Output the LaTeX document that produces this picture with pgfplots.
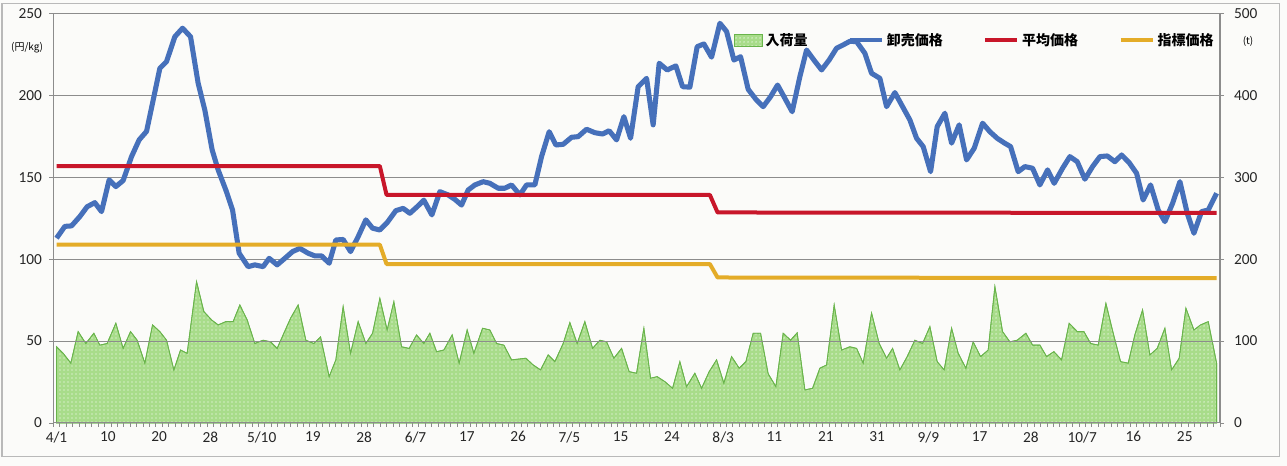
\documentclass[border=0pt]{standalone}
\usepackage{fontspec}
\setmainfont{Carlito}
\newfontfamily\jp{Noto Sans CJK JP}
\usepackage{pgfplots}
\pgfplotsset{compat=1.18}
\usetikzlibrary{patterns}
\definecolor{cblue}{RGB}{70,112,186}
\definecolor{cred}{RGB}{200,22,42}
\definecolor{cyel}{RGB}{228,172,40}
\definecolor{cgreen}{RGB}{168,220,138}
\definecolor{cgreenD}{RGB}{105,180,75}
\definecolor{bgc}{RGB}{251,251,249}
\definecolor{gridc}{RGB}{140,140,140}
\begin{document}
\begin{tikzpicture}
\path[use as bounding box, fill=bgc] (-40pt,-32.25pt) rectangle (925.25pt,317.2pt);
\draw[gray!55, line width=0.8pt] (-38.5pt,-25.5pt) rectangle (919.3pt,314.25pt);
% volume axis (right)
\begin{axis}[at={(0pt,0pt)}, anchor=south west, scale only axis,
  width=875pt, height=307.1pt,
  xmin=-0.5, xmax=181.5, ymin=0, ymax=500,
  axis x line=none, axis y line*=right,
  ytick={0,100,...,500},
  y axis line style={gridc, line width=0.8pt},
  tick align=outside, major tick length=3pt,
  ytick style={gridc, line width=0.6pt},
  /pgf/number format/assume math mode=true,
  ticklabel style={font=\fontsize{11.5}{13}\selectfont, text=black!85},
  yticklabel style={xshift=4pt},
  clip=false]
\addplot[draw=cgreenD, line width=0.6pt, fill=cgreen,
  postaction={pattern=dots, pattern color=white},
  x filter/.expression={(x-56.7)/6.41}] coordinates {
(56.7,93) (63.3,85) (71,73) (78.3,111.5) (86,97) (94,109.5) (100,95) (107.3,97)
(116,121.7) (123.3,91) (130.7,111.5) (137.3,101) (145,73) (152.7,119.7) (160,111.5)
(166.7,101) (174,64.7) (180.7,89) (187.3,85) (196.7,172.5) (204,136) (211.7,125.8)
(218.3,119.7) (226,123.7) (233.3,123.7) (240,144) (247.3,125.8) (255,97) (263.3,101)
(270.7,99) (277.3,91) (284,109.5) (290.7,127.8) (298.3,144) (306,101) (314,97)
(320.7,105) (329.3,56.5) (336,77) (343.3,142) (350.7,85) (358.3,123.7) (366,97)
(372.7,109.5) (380,152) (387.3,113.5) (394,148) (401.7,93) (409.3,91) (416.7,107.4)
(424,97) (430,109.5) (436.7,87) (444,89) (452.3,107.4) (459.3,73) (467.3,113.5)
(474,85) (482.7,115.6) (490,113.5) (496.7,97) (504,95) (511.7,77) (519,78) (526,79)
(533.3,70.8) (540.7,64.7) (548.3,83) (555,74.8) (563.3,97) (570,122.5) (577.3,97)
(585,123.7) (592.7,91) (600,101) (606.7,99) (614,79) (621.7,91) (629.3,62.6)
(636.7,60.7) (644,115.6) (650.7,54.6) (657.3,56.5) (665,50.4) (672.7,42.3) (680,74.8)
(686.7,44.3) (695,60.7) (701.7,42.3) (709.3,62.6) (716.7,77) (724,48.5) (731.7,81)
(739.3,66.8) (746,74.8) (753.3,109.5) (760.7,109.5) (768.3,60) (776,44.3) (783.3,109.5)
(790.7,101) (797.3,110) (805,40.3) (812.7,42.3) (820,66.8) (826.7,70.8) (834.3,144)
(841.7,89) (850,93) (856.7,91) (863.3,73) (871.7,134) (879.3,97) (886.7,79)
(892.7,91) (900,64.7) (907.3,81) (915,101) (922.7,97) (930,117.6) (937.3,74.8)
(944.3,64.7) (951.7,115.6) (958.3,85) (966,66.8) (973.3,99) (980.7,81) (988.3,89)
(995,166.4) (1002.7,111.5) (1010,99) (1017.3,101) (1026,109.5) (1032.7,95) (1040,95)
(1046.7,81) (1054,87) (1061.7,77) (1069.3,121.7) (1077.3,111.5) (1084,111.5)
(1090.7,97) (1098.3,95) (1106,146) (1113.3,109.5) (1120.7,74.8) (1128.3,73)
(1135,107.4) (1142.7,138) (1150,83) (1157.3,91) (1165,115.6) (1171.7,64.7)
(1179.3,79) (1186,140) (1194,113.5) (1200.7,119.7) (1208.3,123.7) (1216.7,73)
} \closedcycle;
\end{axis}
% price axis (left)
\begin{axis}[at={(0pt,0pt)}, anchor=south west, scale only axis,
  width=875pt, height=307.1pt,
  xmin=-0.5, xmax=181.5, ymin=0, ymax=250,
  axis x line*=bottom, axis y line*=left,
  axis line style={gridc, line width=0.8pt},
  ytick={0,50,...,250},
  ymajorgrids, grid style={gridc, line width=0.8pt},
  xtick={-0.5,0.5,...,181.5}, xticklabels={},
  extra x ticks={0,8,...,176},
  extra x tick labels={4/1,10,20,28,5/10,19,28,6/7,17,26,7/5,15,24,8/3,11,21,31,9/9,17,28,10/7,16,25},
  extra x tick style={major tick length=0pt, grid=none},
  tick align=outside, major tick length=3pt,
  tick style={gridc, line width=0.6pt},
  /pgf/number format/assume math mode=true,
  ticklabel style={font=\fontsize{11.5}{13}\selectfont, text=black!85},
  yticklabel style={xshift=-2pt},
  xticklabel style={yshift=-3pt},
  legend style={draw=none, fill=none, at={(0.997,0.935)}, anchor=east,
    inner sep=0pt, font=\jp\bfseries\fontsize{10.5}{12}\selectfont,
    /tikz/every even column/.append style={column sep=28pt}},
  legend columns=4,
  legend cell align=left,
  legend image code/.code={\draw[#1, line width=3.5pt] (0pt,0pt) -- (24pt,0pt);},
  line join=round, clip=false]
\addlegendimage{legend image code/.code={\draw[draw=cgreenD, line width=0.5pt, fill=cgreen, postaction={pattern=dots, pattern color=white}] (0pt,-4.5pt) rectangle (21pt,4.5pt);}}
\addlegendentry{入荷量}
\addplot[cblue, line width=3.8pt, x filter/.expression={(x-56.7)/6.41}] coordinates {
(56.7,112.8) (65,120) (71.7,120.3) (80,126) (87.3,132) (95,134.5) (101.7,129)
(109.3,148.4) (116,144.3) (123.3,148) (131.7,162.6) (139.3,172.8) (146.7,178)
(153.3,197) (160,216.5) (166.7,220.6) (175,235.8) (182.7,241) (190.7,235.8)
(198.3,207.4) (205,191) (212.3,166.7) (218.3,154.5) (226,142.2) (232.7,130)
(239.3,103.6) (248.3,95.4) (255,96.5) (263.3,95.4) (269.3,100.5) (277.3,96.5)
(285,100.5) (292.7,104.6) (300,106.6) (308.3,103.6) (315,102) (321.7,102)
(329.3,97.5) (336,111.7) (343.3,112) (350.7,104.6) (358.3,113.7) (366,124)
(372.7,118.9) (380,117.8) (387.3,122.3) (396,129.6) (403.3,131) (410,128)
(417.3,132) (424,136) (432,127) (440,141.2) (448.3,139.2) (455,136.5) (461.7,133)
(468.3,142.2) (475,145.3) (483.3,147.3) (490,146.3) (498.3,143.3) (505,143.3)
(511.7,145.3) (520,139.2) (526.7,145.3) (535,145.3) (541.7,162.6) (549.3,177.8)
(556,169.7) (563.3,170.1) (571.7,174.4) (578.3,174.8) (586.7,179.3) (595,177.2)
(602.7,176.4) (609.3,178.4) (616.7,172.8) (624,187) (630.7,173.8) (638.3,205.3)
(646.7,210.4) (653.3,182) (659.3,219.6) (667.3,215.5) (676,218) (682.7,205.3)
(690,205) (697.3,229.7) (704,231.4) (711.7,223.3) (720,244) (726.7,239)
(734,221.6) (740.7,223.6) (748.3,203.7) (756,197.6) (763.3,193.1) (770.7,199.2)
(777.7,206.3) (785,198.2) (792.3,190) (800,211.4) (806.7,227.7) (814,221.6)
(821.7,215.5) (829.3,221.6) (836.7,228.8) (843.3,230.8) (850,233) (856.7,232.8)
(865,225.7) (871.7,213.5) (880,210.4) (886.7,193.1) (895,201.7) (902.7,193.1)
(910,185) (916.7,173.8) (923.3,168.7) (930.7,153.4) (937.3,180.9) (945,189.1)
(951.7,170.8) (959.3,182) (966.7,160.6) (974.3,167.7) (982.7,183) (990,177.8)
(997.3,173.8) (1004,171.1) (1010.7,168.7) (1018.3,153.4) (1025,156.5) (1032.7,155.5)
(1040,145.3) (1047.7,154.5) (1054.3,146.3) (1062.7,155.5) (1070,162.6) (1077.3,159.5)
(1085,148.8) (1092.7,156.5) (1100,162.6) (1107.3,163) (1115,159.5) (1121.7,163.6)
(1129.3,158.9) (1136.7,152.4) (1143.3,136.1) (1150.7,145.3) (1158.3,130) (1165,122.9)
(1172.7,134.1) (1180,147.3) (1187.3,128) (1194,115.8) (1201.7,129) (1208.3,130)
(1216.7,140.2)
};
\addlegendentry{卸売価格}
\addplot[cred, line width=3pt, x filter/.expression={(x-56.7)/6.41}] coordinates {
(56.7,156.8) (380,156.8) (386.7,139.2) (710,139.2) (717.7,128.5) (1216.7,128.2)
};
\addlegendentry{平均価格}
\addplot[cyel, line width=3pt, x filter/.expression={(x-56.7)/6.41}] coordinates {
(56.7,108.8) (380,108.8) (386.7,97) (710,97) (717.7,88.8) (1216.7,88.4)
};
\addlegendentry{指標価格}
\end{axis}
\node[font=\jp\fontsize{7.5}{9}\selectfont] at (-19.7pt,281.3pt) {(円/kg)};
\node[font=\jp\fontsize{7.5}{9}\selectfont] at (896pt,285.8pt) {(t)};
\end{tikzpicture}
\end{document}
